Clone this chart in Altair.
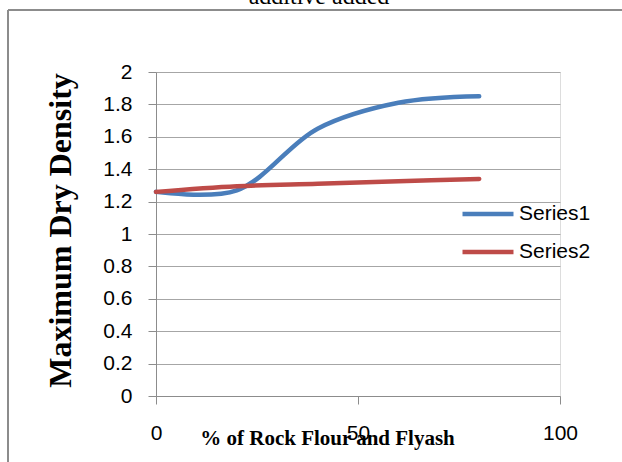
import altair as alt
import pandas as pd

x_vals = [0, 20, 40, 60, 80]
series1 = [1.26, 1.27, 1.65, 1.81, 1.85]
series2 = [1.26, 1.295, 1.31, 1.325, 1.34]
series_names = ["Series1", "Series2"]
colors = ["#4A7EBB", "#BE4B48"]
y_ticks = [0, 0.2, 0.4, 0.6, 0.8, 1, 1.2, 1.4, 1.6, 1.8, 2]
x_ticks = [0, 50, 100]
chart_title = ["additive added"]

rows = []
for name, vals in zip(series_names, [series1, series2]):
    for xv, yv in zip(x_vals, vals):
        rows.append({"x": xv, "y": yv, "series": name})
df = pd.DataFrame(rows)

GRAY = "#8c8c8c"
LABEL_FONT = "Liberation Sans"
SERIF = "Liberation Serif"

lines = alt.Chart(df).mark_line(strokeWidth=4.5, interpolate="catmull-rom", strokeCap="round").encode(
    x=alt.X("x:Q", scale=alt.Scale(domain=[0, 100], nice=False),
            axis=alt.Axis(values=x_ticks, grid=False, title="% of Rock Flour and Flyash",
                          titleFont=SERIF, titleFontSize=21, titleFontWeight="bold", titleColor="black",
                          titleX=171, titleY=48, titleAlign="center", titleBaseline="alphabetic",
                          labelFont=LABEL_FONT, labelFontSize=21, labelColor="black",
                          labelPadding=18, tickSize=8, tickColor=GRAY, domainColor=GRAY,
                          labelFlush=False)),
    y=alt.Y("y:Q", scale=alt.Scale(domain=[0, 2], nice=False),
            axis=alt.Axis(values=y_ticks, grid=True, gridColor="#a6a6a6", format="~g",
                          title="Maximum Dry Density",
                          titleFont=SERIF, titleFontSize=32, titleFontWeight="bold", titleColor="black",
                          titleX=-96, titleY=158, titleAngle=-90, titleAlign="center", titleBaseline="middle",
                          labelFont=LABEL_FONT, labelFontSize=21, labelColor="black",
                          labelPadding=16, tickSize=8, tickColor=GRAY, domainColor=GRAY)),
    color=alt.Color("series:N", scale=alt.Scale(domain=series_names, range=colors),
                    legend=alt.Legend(title=None, orient="none", legendX=304, legendY=114,
                                      symbolType="stroke", symbolSize=2600, symbolStrokeWidth=4.5,
                                      labelFont=LABEL_FONT, labelFontSize=21, labelColor="black",
                                      labelOffset=3, rowPadding=0, padding=0)),
)

frame = alt.Chart(pd.DataFrame({"a": [0]})).mark_rule(color=GRAY, strokeWidth=2).encode(
    x=alt.value(-148), y=alt.value(-62), y2=alt.value(400)
)
frame_top = alt.Chart(pd.DataFrame({"a": [0]})).mark_rule(color=GRAY, strokeWidth=2).encode(
    x=alt.value(-148), x2=alt.value(470), y=alt.value(-62)
)
title_text = alt.Chart(pd.DataFrame({"t": chart_title})).mark_text(
    font=SERIF, fontSize=24, color="black", align="center", baseline="alphabetic"
).encode(text="t:N", x=alt.value(163), y=alt.value(-68))

chart = alt.layer(frame, frame_top, title_text, lines).properties(
    width=404, height=324,
    autosize=alt.AutoSizeParams(type="none"),
    padding={"left": 156, "top": 72, "right": 62, "bottom": 66},
).configure_view(stroke=None).configure(background="white")

chart.save("out.html", embed_options={"renderer": "svg", "actions": False})
